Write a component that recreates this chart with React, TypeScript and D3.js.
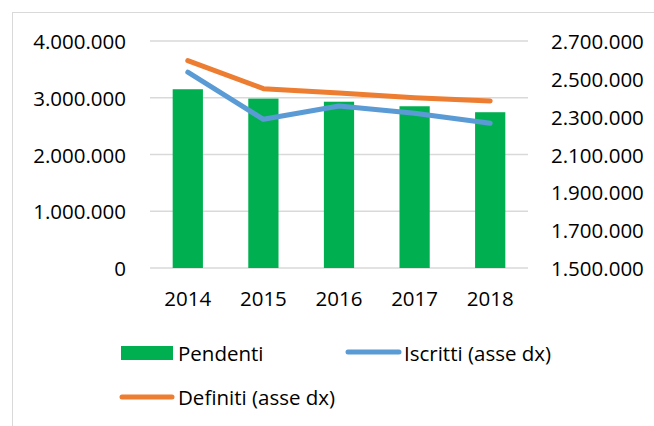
import { useRef, useEffect } from 'react';
import * as d3 from 'd3';

// Data
const years = ['2014', '2015', '2016', '2017', '2018'];
const pendenti = [3150000, 2985000, 2930000, 2850000, 2745000];
const iscritti = [2535000, 2286000, 2356000, 2318000, 2265000];
const definiti = [2596000, 2448000, 2425000, 2400000, 2383000];
const leftTicks = [0, 1000000, 2000000, 3000000, 4000000];
const rightTicks = [1500000, 1700000, 1900000, 2100000, 2300000, 2500000, 2700000];

const C = {
  green: '#00B050',
  blue: '#5B9BD5',
  orange: '#ED7D31',
  grid: '#D9D9D9',
  text: '#000000',
};

const W = 654;
const H = 426;
const FONT = '"Open Sans", sans-serif';

const fmt = (v: number) => (v === 0 ? '0' : d3.format(',')(v).replace(/,/g, '.'));

export default function App() {
  const svgRef = useRef<SVGSVGElement | null>(null);

  useEffect(() => {
    if (!svgRef.current) return;
    const svg = d3.select(svgRef.current);
    svg.selectAll('*').remove();

    const margin = { top: 41, bottom: 268, left: 150, right: 528 };

    const x = d3.scaleBand<string>()
      .domain(years)
      .range([margin.left, margin.right])
      .paddingInner(0.6)
      .paddingOuter(0.3);

    const yL = d3.scaleLinear().domain([0, 4000000]).range([margin.bottom, margin.top]);
    const yR = d3.scaleLinear().domain([1500000, 2700000]).range([margin.bottom, margin.top]);

    svg.append('rect')
      .attr('width', W)
      .attr('height', H)
      .attr('fill', '#fff');

    // chart frame
    svg.append('rect')
      .attr('x', 12.5)
      .attr('y', 12.5)
      .attr('width', 700)
      .attr('height', 500)
      .attr('fill', 'none')
      .attr('stroke', C.grid)
      .attr('stroke-width', 1);

    // Grid lines
    leftTicks.forEach(t => {
      svg.append('line')
        .attr('x1', margin.left)
        .attr('x2', margin.right)
        .attr('y1', yL(t))
        .attr('y2', yL(t))
        .attr('stroke', C.grid)
        .attr('stroke-width', 1.5);
    });

    // Left axis labels
    leftTicks.forEach(t => {
      svg.append('text')
        .attr('x', 126)
        .attr('y', yL(t))
        .attr('text-anchor', 'end')
        .attr('dominant-baseline', 'central')
        .attr('font-family', FONT)
        .attr('font-size', 20.5)
        .attr('fill', C.text)
        .text(fmt(t));
    });

    // Right axis labels
    rightTicks.forEach(t => {
      svg.append('text')
        .attr('x', 551)
        .attr('y', yR(t))
        .attr('text-anchor', 'start')
        .attr('dominant-baseline', 'central')
        .attr('font-family', FONT)
        .attr('font-size', 20.5)
        .attr('fill', C.text)
        .text(fmt(t));
    });

    // Category labels
    years.forEach(y => {
      svg.append('text')
        .attr('x', (x(y) as number) + x.bandwidth() / 2)
        .attr('y', 298)
        .attr('text-anchor', 'middle')
        .attr('dominant-baseline', 'central')
        .attr('font-family', FONT)
        .attr('font-size', 20.5)
        .attr('fill', C.text)
        .text(y);
    });

    // Bars
    svg.selectAll('.bar')
      .data(pendenti)
      .enter()
      .append('rect')
      .attr('class', 'bar')
      .attr('x', (_, i) => x(years[i]) as number)
      .attr('y', d => yL(d))
      .attr('width', x.bandwidth())
      .attr('height', d => yL(0) - yL(d))
      .attr('fill', C.green);

    const line = d3.line<number>()
      .x((_, i) => (x(years[i]) as number) + x.bandwidth() / 2)
      .y(d => yR(d));

    [[definiti, C.orange], [iscritti, C.blue]].forEach(([vals, col]) => {
      svg.append('path')
        .attr('d', line(vals as number[]))
        .attr('fill', 'none')
        .attr('stroke', col as string)
        .attr('stroke-width', 5)
        .attr('stroke-linecap', 'round')
        .attr('stroke-linejoin', 'round');
    });

    // Legend
    const lg = svg.append('g').attr('font-family', FONT).attr('font-size', 20.5).attr('fill', C.text);

    lg.append('rect')
      .attr('x', 121)
      .attr('y', 346)
      .attr('width', 52)
      .attr('height', 14)
      .attr('fill', C.green);
    lg.append('text')
      .attr('x', 178)
      .attr('y', 353)
      .attr('dominant-baseline', 'central')
      .text('Pendenti');

    lg.append('line')
      .attr('x1', 348).attr('x2', 399)
      .attr('y1', 352).attr('y2', 352)
      .attr('stroke', C.blue)
      .attr('stroke-width', 5)
      .attr('stroke-linecap', 'round');
    lg.append('text')
      .attr('x', 404)
      .attr('y', 353)
      .attr('dominant-baseline', 'central')
      .text('Iscritti (asse dx)');

    lg.append('line')
      .attr('x1', 122).attr('x2', 172)
      .attr('y1', 397).attr('y2', 397)
      .attr('stroke', C.orange)
      .attr('stroke-width', 5)
      .attr('stroke-linecap', 'round');
    lg.append('text')
      .attr('x', 178)
      .attr('y', 397)
      .attr('dominant-baseline', 'central')
      .text('Definiti (asse dx)');
  }, []);

  return (
    <svg
      ref={svgRef}
      width={W}
      height={H}
      style={{ position: 'absolute', left: 0, top: 0, display: 'block' }}
    />
  );
}
